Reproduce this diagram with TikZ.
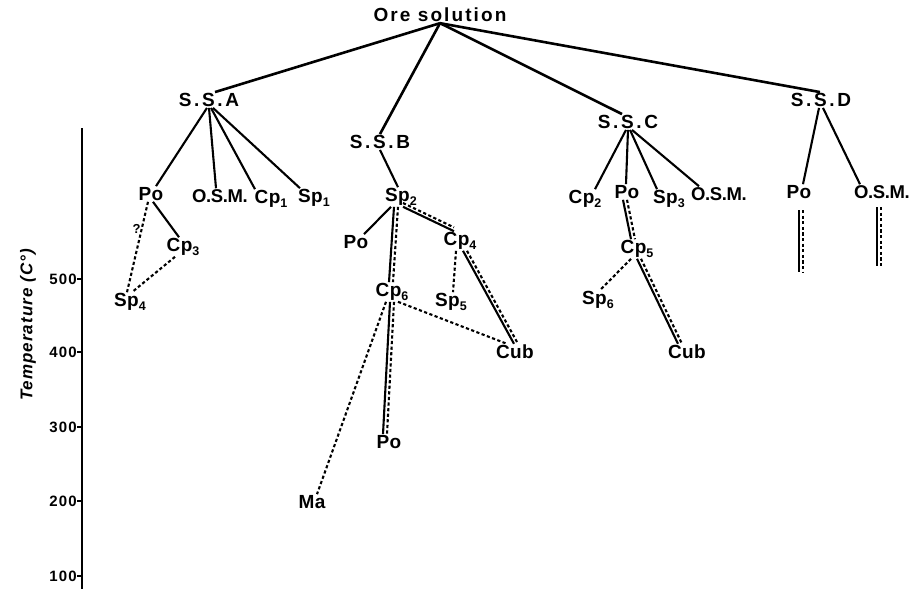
\documentclass[tikz,border=0pt]{standalone}
\usepackage{fontspec}
\newfontfamily\spfont{Liberation Sans}[LetterSpace=2]
\newfontfamily\osmfont{Liberation Sans}[LetterSpace=-2]
\newfontfamily\widefont{Liberation Sans}[LetterSpace=14]
\newfontfamily\orefont{Liberation Sans}[LetterSpace=11]
\newfontfamily\tickfont{Liberation Sans}[LetterSpace=8]
\newfontfamily\axfont{Liberation Sans}[LetterSpace=6]
\newcommand{\lowidx}[1]{\raisebox{-0.35ex}{\fontsize{12.5}{12.5}\selectfont #1}}
\begin{document}
\begin{tikzpicture}[x=1pt,y=-1pt,
  sp/.style={font=\spfont\bfseries\fontsize{19}{19}\selectfont, inner sep=1pt},
  osm/.style={font=\osmfont\bfseries\fontsize{18.5}{18.5}\selectfont, inner sep=1pt},
  headlbl/.style={font=\widefont\bfseries\fontsize{19}{19}\selectfont, inner sep=1pt},
  orelbl/.style={font=\orefont\bfseries\fontsize{19}{19}\selectfont, inner sep=1pt},
  tick/.style={font=\tickfont\bfseries\fontsize{15}{15}\selectfont, anchor=east, inner sep=0pt},
  ln/.style={line width=2.1pt},
  thickln/.style={line width=2.6pt},
  dl/.style={line width=2.1pt, dash pattern=on 3.2pt off 2.4pt},
  dlr/.style={dl, transform canvas={xshift=4pt}},
  dlu/.style={dl, transform canvas={yshift=3.8pt}}]
\useasboundingbox (0,0) rectangle (910,589);

% axis
\coordinate (axtop) at (82,128);
\coordinate (axbot) at (82,589);
\draw[line width=2.6pt] (axtop) -- (axbot);
\foreach \v/\y in {500/279,400/352,300/427,200/501,100/576}{
  \node[tick] (t\v) at (77,\y) {\v};
  \draw[line width=1.8pt] (t\v.east) -- (82,\y);
}
\node[font=\axfont\bfseries\itshape\fontsize{17}{17}\selectfont, rotate=90] (axlbl) at (28,325) {Temperature (C°)};

% top level
\node[orelbl] (ore) at (440,15) {Ore solution};
\node[headlbl] (ssa) at (209,100) {S.S.A};
\node[headlbl] (ssb) at (380,142) {S.S.B};
\node[headlbl] (ssc) at (628,122) {S.S.C};
\node[headlbl] (ssd) at (821,100) {S.S.D};

\draw[thickln] (ore.south) -- ([xshift=6pt]ssa.north);
\draw[thickln] (ore.south) -- (ssb.north);
\draw[thickln] (ore.south) -- ([xshift=-6pt]ssc.north);
\draw[thickln] (ore.south) -- ([xshift=-1pt]ssd.north);

% S.S.A
\node[sp] (poa) at (151,194) {Po};
\node[osm] (osma) at (220,196) {O.S.M.};
\node[sp] (cp1) at (271,199) {Cp\lowidx{1}};
\node[sp] (sp1) at (314,198) {Sp\lowidx{1}};
\node[sp] (cp3) at (183,247) {Cp\lowidx{3}};
\node[sp] (sp4) at (130,302) {Sp\lowidx{4}};

\draw[ln] ([xshift=-2pt]ssa.south) -- ([xshift=5pt]poa.north);
\draw[ln] (ssa.south) -- ([xshift=-4pt]osma.north);
\draw[ln] ([xshift=2pt]ssa.south) -- ([xshift=-16pt]cp1.north);
\draw[ln] ([xshift=4pt]ssa.south) -- ([xshift=-14pt]sp1.north);
\draw[ln] ([xshift=2pt]poa.south) -- ([xshift=-4pt]cp3.north);
\draw[dl] ([xshift=-3pt]poa.south) -- ([xshift=-3pt]sp4.north);
\draw[dl] ([xshift=-8pt]cp3.south) -- ([xshift=2pt]sp4.north);
\node[sp, font=\spfont\bfseries\fontsize{13}{13}\selectfont] (qm) at (136.5,229) {?};

% S.S.B
\node[sp] (sp2) at (401,197) {Sp\lowidx{2}};
\node[sp] (pob) at (356,242) {Po};
\node[sp] (cp4) at (460,241) {Cp\lowidx{4}};
\node[sp] (cp6) at (392,292) {Cp\lowidx{6}};
\node[sp] (sp5) at (451,302) {Sp\lowidx{5}};
\node[sp] (cubb) at (515,352) {Cub};
\node[sp] (pob2) at (389,442) {Po};
\node[sp] (ma) at (312,502) {Ma};

\draw[ln] (ssb.south) -- ([xshift=-3pt]sp2.north);
\draw[ln] ([xshift=-10pt]sp2.south) -- ([xshift=8pt]pob.north);
\draw[ln] ([xshift=-7pt]sp2.south) -- ([xshift=-3pt]cp6.north);
\draw[dlr] ([xshift=-7pt]sp2.south) -- ([xshift=-3pt]cp6.north);
\draw[ln] ([xshift=2pt]sp2.south) -- ([xshift=-6pt]cp4.north);
\draw[dlu] ([xshift=2pt]sp2.south) -- ([xshift=-6pt]cp4.north);
\draw[dl] ([xshift=-4pt]cp4.south) -- ([xshift=2pt]sp5.north);
\draw[ln] ([xshift=3pt]cp4.south) -- ([xshift=-1pt]cubb.north);
\draw[dlr] ([xshift=3pt]cp4.south) -- ([xshift=-1pt]cubb.north);
\draw[dl] ([xshift=6pt]cp6.south) -- ([xshift=-8pt]cubb.north);
\draw[ln] ([xshift=-2pt]cp6.south) -- ([xshift=-6pt]pob2.north);
\draw[dlr] ([xshift=-2pt]cp6.south) -- ([xshift=-6pt]pob2.north);
\draw[dl] ([xshift=-6pt]cp6.south) -- ([xshift=5pt]ma.north);

% S.S.C
\node[sp] (cp2) at (585,199) {Cp\lowidx{2}};
\node[sp] (poc) at (627,192) {Po};
\node[sp] (sp3) at (669,199) {Sp\lowidx{3}};
\node[osm] (osmc) at (719,194) {O.S.M.};
\node[sp] (cp5) at (637,249) {Cp\lowidx{5}};
\node[sp] (sp6) at (598,300) {Sp\lowidx{6}};
\node[sp] (cubc) at (687,352) {Cub};

\draw[ln] ([xshift=-2pt]ssc.south) -- ([xshift=10pt]cp2.north);
\draw[ln] (ssc.south) -- ([xshift=-1pt]poc.north);
\draw[ln] ([xshift=2pt]ssc.south) -- ([xshift=-12pt]sp3.north);
\draw[ln] ([xshift=4pt]ssc.south) -- ([xshift=-20pt]osmc.north);
\draw[ln] ([xshift=-4pt]poc.south) -- ([xshift=-6pt]cp5.north);
\draw[dlr] ([xshift=-4pt]poc.south) -- ([xshift=-6pt]cp5.north);
\draw[dl] ([xshift=-6pt]cp5.south) -- ([xshift=2pt]sp6.north);
\draw[ln] ([xshift=0pt]cp5.south) -- ([xshift=-9pt]cubc.north);
\draw[dlr] ([xshift=0pt]cp5.south) -- ([xshift=-9pt]cubc.north);

% S.S.D
\node[sp] (pod) at (799,192) {Po};
\node[osm] (osmd) at (882,192) {O.S.M.};
\draw[ln] ([xshift=-2pt]ssd.south) -- ([xshift=4pt]pod.north);
\draw[ln] ([xshift=2pt]ssd.south) -- ([xshift=-22pt]osmd.north);
\coordinate (pd1) at (799,210);
\coordinate (pd2) at (799,272);
\coordinate (od1) at (877,207);
\coordinate (od2) at (877,266);
\draw[ln] (pd1) -- (pd2);
\draw[dlr] (pd1) -- (pd2);
\draw[ln] (od1) -- (od2);
\draw[dlr] (od1) -- (od2);
\end{tikzpicture}
\end{document}
